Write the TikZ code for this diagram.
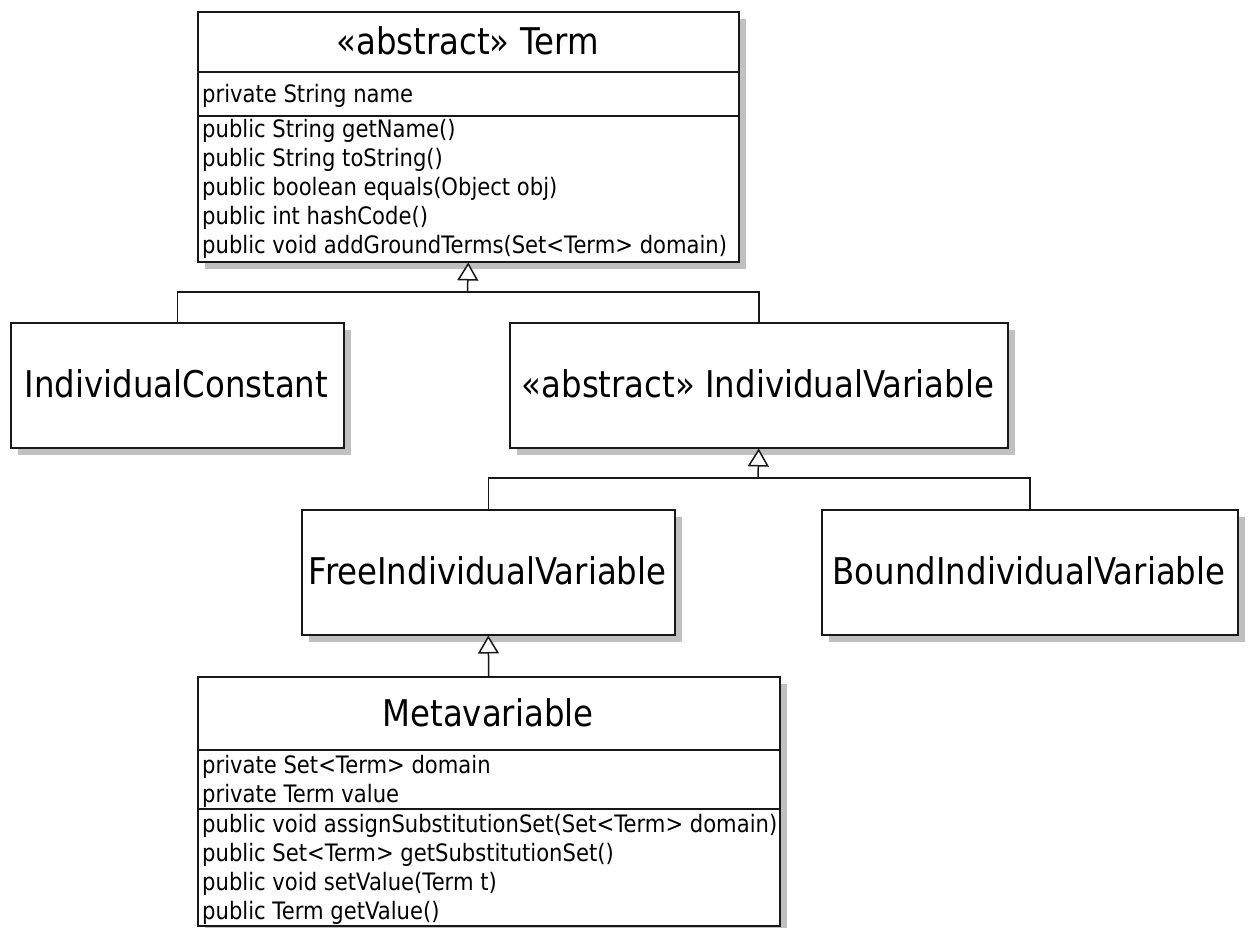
\documentclass[tikz,border=0pt]{standalone}
\usepackage{fontspec}
\newfontfamily\umlfont[FakeStretch=0.88]{DejaVu Sans}
\usetikzlibrary{arrows.meta,shadows}

\definecolor{shadowgrey}{RGB}{192,192,192}
\definecolor{inkline}{RGB}{24,24,24}

\tikzset{
  classbox/.style={rectangle, draw=inkline, line width=1.5pt, fill=white,
    inner sep=0pt, anchor=north west,
    drop shadow={shadow xshift=7pt, shadow yshift=-7pt, fill=shadowgrey, opacity=1}},
  bigtext/.style={font=\umlfont\fontsize{36.8}{44}\selectfont, inner sep=0pt, anchor=base},
  member/.style={font=\umlfont\fontsize{24}{29}\selectfont, inner sep=0pt, anchor=base west},
  sepline/.style={draw=inkline, line width=1.5pt},
  link/.style={draw=inkline, line width=1.5pt},
  gen/.style={link, -{Triangle[fill=white, width=21pt, length=18pt]}},
}

\begin{document}
\begin{tikzpicture}[x=1pt,y=-1pt]
\useasboundingbox (0,0) rectangle (1251,927);
\clip (0,0) rectangle (1251,927);
\fill[white] (0,0) rectangle (1251,927);

% ---- class boxes ----
\node[classbox, minimum width=541pt, minimum height=250pt] (term)  at (197,11)  {};
\node[classbox, minimum width=333pt, minimum height=125pt] (ic)    at (10,322)  {};
\node[classbox, minimum width=498pt, minimum height=125pt] (iv)    at (509,322) {};
\node[classbox, minimum width=373pt, minimum height=125pt] (free)  at (301,509) {};
\node[classbox, minimum width=416pt, minimum height=125pt] (bound) at (821,509) {};
\node[classbox, minimum width=582pt, minimum height=249pt] (meta)  at (197,676) {};

% ---- compartment separators ----
\coordinate (ts1) at (0,72);
\coordinate (ts2) at (0,116);
\coordinate (ms1) at (0,750);
\coordinate (ms2) at (0,809);
\draw[sepline] (term.west |- ts1) -- (term.east |- ts1);
\draw[sepline] (term.west |- ts2) -- (term.east |- ts2);
\draw[sepline] (meta.west |- ms1) -- (meta.east |- ms1);
\draw[sepline] (meta.west |- ms2) -- (meta.east |- ms2);

% ---- Term ----
\node[bigtext] (termname) at (467.5,54.5) {«abstract» Term};
\node[member] (ta1) at (202,102.5) {private String name};
\node[member] (tm1) at (202,137.5) {public String getName()};
\node[member] (tm2) at (202,166.5) {public String toString()};
\node[member] (tm3) at (202,195.5) {public boolean equals(Object obj)};
\node[member] (tm4) at (202,224.5) {public int hashCode()};
\node[member] (tm5) at (202,253.5) {public void addGroundTerms(Set<Term> domain)};

% ---- plain classes ----
\node[bigtext] (icname)    at (176.5,397.5) {IndividualConstant};
\node[bigtext] (ivname)    at (758,397.5)   {«abstract» IndividualVariable};
\node[bigtext] (freename)  at (487.5,584.5) {FreeIndividualVariable};
\node[bigtext] (boundname) at (1029,584.5)  {BoundIndividualVariable};

% ---- Metavariable ----
\node[bigtext] (metaname) at (488,726) {Metavariable};
\node[member] (ma1) at (202,773.5) {private Set<Term> domain};
\node[member] (ma2) at (202,802.5) {private Term value};
\node[member] (mm1) at (202,832)   {public void assignSubstitutionSet(Set<Term> domain)};
\node[member] (mm2) at (202,861)   {public Set<Term> getSubstitutionSet()};
\node[member] (mm3) at (202,890)   {public void setValue(Term t)};
\node[member] (mm4) at (202,919)   {public Term getValue()};

% ---- generalisation connectors ----
\coordinate (j1) at (467.5,292);
\draw[link] (ic.north) |- (j1) -| (iv.north);
\draw[gen] (j1) -- (term.south);

\coordinate (j2) at (758,478);
\draw[link] (free.north) |- (j2) -| (bound.north);
\draw[gen] (j2) -- (iv.south);

\draw[gen] (meta.north) -- (free.south);
\end{tikzpicture}
\end{document}
